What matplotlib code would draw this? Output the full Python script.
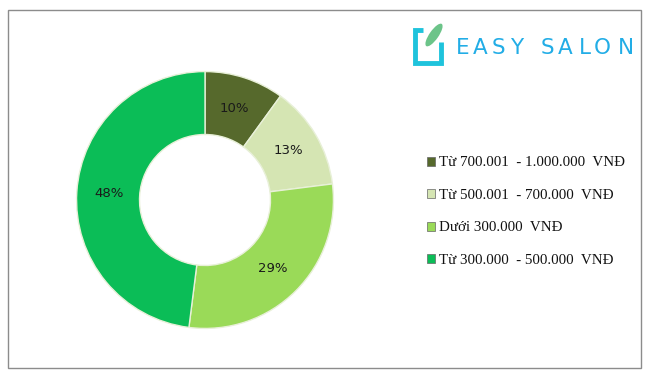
import matplotlib
matplotlib.use("Agg")
import matplotlib.pyplot as plt
from matplotlib.patches import Rectangle, Ellipse

labels = ["Từ 700.001  - 1.000.000  VNĐ", "Từ 500.001  - 700.000  VNĐ",
          "Dưới 300.000  VNĐ", "Từ 300.000  - 500.000  VNĐ"]
values = [10, 13, 29, 48]
colors = ["#56692c", "#d5e5b3", "#9ada58", "#0bbd57"]
logo_letters = list("EASYSALON")

W, H = 650, 380
fig = plt.figure(figsize=(6.5, 3.8), dpi=100)
fig.patch.set_facecolor("white")

# outer frame
fig.add_artist(Rectangle((8 / W, 12 / H), 633 / W, 358 / H, transform=fig.transFigure,
                         fill=False, edgecolor="#8c8c8c", linewidth=1.0))

cx, cy, R = 205, 200, 131
ax = fig.add_axes([(cx - R) / W, (H - cy - R) / H, 2 * R / W, 2 * R / H])
wedges, texts, autotexts = ax.pie(
    values, colors=colors, startangle=90, counterclock=False,
    autopct=lambda p: f"{p:.0f}%", pctdistance=0.75,
    wedgeprops=dict(width=0.49, edgecolor="#e8f0d8", linewidth=1.0),
    textprops=dict(fontsize=9.5, color="#1a1a1a", family="DejaVu Sans"))
ax.set_xlim(-1.02, 1.02)
ax.set_ylim(-1.02, 1.02)
ax.set_aspect("equal")
ax.axis("off")

# legend
handles = [Rectangle((0, 0), 1, 1, facecolor=c, edgecolor="#666666", linewidth=0.5) for c in colors]
leg = fig.legend(handles, labels, loc="upper left",
                 bbox_to_anchor=(413 / W, 1 - 143 / H), bbox_transform=fig.transFigure,
                 frameon=False, handlelength=0.55, handleheight=0.55, handletextpad=0.25,
                 labelspacing=1.3, prop=dict(family="Liberation Serif", size=10.8))
for t in leg.get_texts():
    t.set_color("#111111")

# logo
lax = fig.add_axes([405 / W, 1 - 72 / H, 240 / W, 57 / H])
lax.set_xlim(405, 645)
lax.set_ylim(72, 15)
lax.axis("off")
lax.plot([423, 415, 415, 441, 441], [30, 30, 63, 63, 42], color="#1fc3dc", linewidth=3.5,
         solid_capstyle="butt", solid_joinstyle="miter")
leaf = Ellipse((434, 35), 9, 27, angle=35, facecolor="#6cc489", edgecolor="none")
lax.add_patch(leaf)
letter_x = [463, 480, 498, 517, 547, 565, 585, 602, 626]
for ch, x in zip(logo_letters, letter_x):
    lax.text(x, 48, ch, color="#22ade6", fontsize=15.5, family="DejaVu Sans",
             va="center", ha="center")

fig.savefig("out.png", dpi=100, facecolor="white")
